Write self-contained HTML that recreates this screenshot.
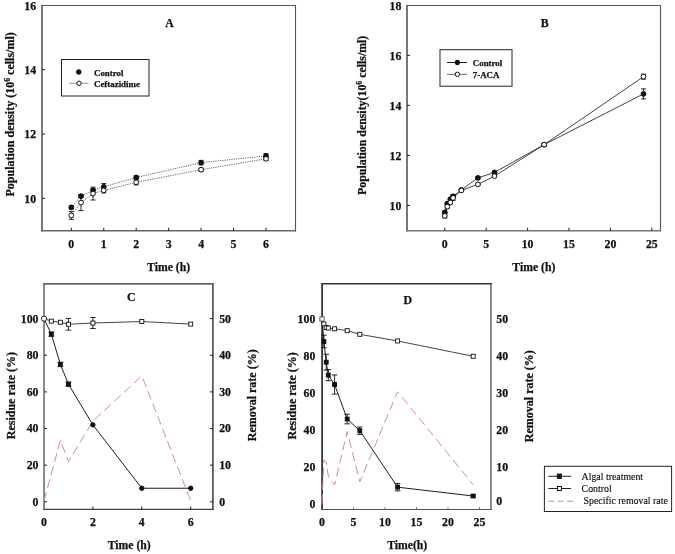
<!DOCTYPE html>
<html><head><meta charset="utf-8"><title>Figure</title>
<style>
html,body{margin:0;padding:0;background:#fff;}
body{width:675px;height:554px;overflow:hidden;font-family:"Liberation Serif",serif;}
svg{display:block;will-change:transform;font-family:"Liberation Serif",serif;fill:#111;}
svg text{stroke:#111;stroke-width:0.25px;stroke-linejoin:round;}
svg text.r{stroke-width:0.15px;}
</style></head><body>
<svg width="675" height="554" viewBox="0 0 675 554">
<rect x="0" y="0" width="675" height="554" fill="#fff" stroke="none"/>
<line x1="42.00" y1="4.95" x2="42.00" y2="231.55" stroke="#555" stroke-width="1.6" />
<line x1="295.50" y1="4.95" x2="295.50" y2="231.55" stroke="#555" stroke-width="1.1" />
<line x1="41.20" y1="5.50" x2="296.05" y2="5.50" stroke="#555" stroke-width="1.1" />
<line x1="41.20" y1="230.80" x2="296.05" y2="230.80" stroke="#666" stroke-width="1.5" />
<line x1="42.00" y1="198.40" x2="45.00" y2="198.40" stroke="#222" stroke-width="1" />
<text x="36.10" y="202.65" font-size="11.8" font-weight="bold" text-anchor="end" >10</text>
<line x1="42.00" y1="134.00" x2="45.00" y2="134.00" stroke="#222" stroke-width="1" />
<text x="36.10" y="138.25" font-size="11.8" font-weight="bold" text-anchor="end" >12</text>
<line x1="42.00" y1="69.60" x2="45.00" y2="69.60" stroke="#222" stroke-width="1" />
<text x="36.10" y="73.85" font-size="11.8" font-weight="bold" text-anchor="end" >14</text>
<text x="36.10" y="10.35" font-size="11.8" font-weight="bold" text-anchor="end" >16</text>
<line x1="71.30" y1="230.80" x2="71.30" y2="227.80" stroke="#222" stroke-width="1" />
<text x="71.30" y="248.00" font-size="11.8" font-weight="bold" text-anchor="middle" >0</text>
<line x1="103.75" y1="230.80" x2="103.75" y2="227.80" stroke="#222" stroke-width="1" />
<text x="103.75" y="248.00" font-size="11.8" font-weight="bold" text-anchor="middle" >1</text>
<line x1="136.20" y1="230.80" x2="136.20" y2="227.80" stroke="#222" stroke-width="1" />
<text x="136.20" y="248.00" font-size="11.8" font-weight="bold" text-anchor="middle" >2</text>
<line x1="168.65" y1="230.80" x2="168.65" y2="227.80" stroke="#222" stroke-width="1" />
<text x="168.65" y="248.00" font-size="11.8" font-weight="bold" text-anchor="middle" >3</text>
<line x1="201.10" y1="230.80" x2="201.10" y2="227.80" stroke="#222" stroke-width="1" />
<text x="201.10" y="248.00" font-size="11.8" font-weight="bold" text-anchor="middle" >4</text>
<line x1="233.55" y1="230.80" x2="233.55" y2="227.80" stroke="#222" stroke-width="1" />
<text x="233.55" y="248.00" font-size="11.8" font-weight="bold" text-anchor="middle" >5</text>
<line x1="266.00" y1="230.80" x2="266.00" y2="227.80" stroke="#222" stroke-width="1" />
<text x="266.00" y="248.00" font-size="11.8" font-weight="bold" text-anchor="middle" >6</text>
<text x="168.60" y="270.50" font-size="11.7" font-weight="bold" text-anchor="middle" >Time (h)</text>
<text x="14.10" y="114.40" font-size="12.0" font-weight="bold" text-anchor="middle" transform="rotate(-90 14.10 114.40)" >Population density (10<tspan dy="-4.5" font-size="7.8">6</tspan><tspan dy="4.5"> cells/ml)</tspan></text>
<text x="169.40" y="26.80" font-size="11.8" font-weight="bold" text-anchor="middle" >A</text>
<polyline points="71.30,207.42 81.03,196.15 93.04,190.35 103.75,186.81 136.20,177.47 201.10,162.66 266.00,155.90" fill="none" stroke="#444" stroke-width="0.8" stroke-dasharray="1.25,1.05"/>
<polyline points="71.30,215.47 81.03,202.59 93.04,193.57 103.75,190.35 136.20,182.30 201.10,169.74 266.00,158.79" fill="none" stroke="#444" stroke-width="0.8" stroke-dasharray="1.25,1.05"/>
<line x1="71.30" y1="205.81" x2="71.30" y2="209.03" stroke="#111" stroke-width="0.9" />
<line x1="68.80" y1="205.81" x2="73.80" y2="205.81" stroke="#111" stroke-width="0.9" />
<line x1="68.80" y1="209.03" x2="73.80" y2="209.03" stroke="#111" stroke-width="0.9" />
<circle cx="71.30" cy="207.42" r="2.4" fill="#111" stroke="#111" stroke-width="1"/>
<line x1="81.03" y1="194.86" x2="81.03" y2="197.43" stroke="#111" stroke-width="0.9" />
<line x1="78.53" y1="194.86" x2="83.53" y2="194.86" stroke="#111" stroke-width="0.9" />
<line x1="78.53" y1="197.43" x2="83.53" y2="197.43" stroke="#111" stroke-width="0.9" />
<circle cx="81.03" cy="196.15" r="2.4" fill="#111" stroke="#111" stroke-width="1"/>
<line x1="93.04" y1="188.42" x2="93.04" y2="192.28" stroke="#111" stroke-width="0.9" />
<line x1="90.54" y1="188.42" x2="95.54" y2="188.42" stroke="#111" stroke-width="0.9" />
<line x1="90.54" y1="192.28" x2="95.54" y2="192.28" stroke="#111" stroke-width="0.9" />
<circle cx="93.04" cy="190.35" r="2.4" fill="#111" stroke="#111" stroke-width="1"/>
<line x1="103.75" y1="183.59" x2="103.75" y2="190.03" stroke="#111" stroke-width="0.9" />
<line x1="101.25" y1="183.59" x2="106.25" y2="183.59" stroke="#111" stroke-width="0.9" />
<line x1="101.25" y1="190.03" x2="106.25" y2="190.03" stroke="#111" stroke-width="0.9" />
<circle cx="103.75" cy="186.81" r="2.4" fill="#111" stroke="#111" stroke-width="1"/>
<line x1="136.20" y1="175.86" x2="136.20" y2="179.08" stroke="#111" stroke-width="0.9" />
<line x1="133.70" y1="175.86" x2="138.70" y2="175.86" stroke="#111" stroke-width="0.9" />
<line x1="133.70" y1="179.08" x2="138.70" y2="179.08" stroke="#111" stroke-width="0.9" />
<circle cx="136.20" cy="177.47" r="2.4" fill="#111" stroke="#111" stroke-width="1"/>
<line x1="201.10" y1="160.40" x2="201.10" y2="164.91" stroke="#111" stroke-width="0.9" />
<line x1="198.60" y1="160.40" x2="203.60" y2="160.40" stroke="#111" stroke-width="0.9" />
<line x1="198.60" y1="164.91" x2="203.60" y2="164.91" stroke="#111" stroke-width="0.9" />
<circle cx="201.10" cy="162.66" r="2.4" fill="#111" stroke="#111" stroke-width="1"/>
<line x1="266.00" y1="153.64" x2="266.00" y2="158.15" stroke="#111" stroke-width="0.9" />
<line x1="263.50" y1="153.64" x2="268.50" y2="153.64" stroke="#111" stroke-width="0.9" />
<line x1="263.50" y1="158.15" x2="268.50" y2="158.15" stroke="#111" stroke-width="0.9" />
<circle cx="266.00" cy="155.90" r="2.4" fill="#111" stroke="#111" stroke-width="1"/>
<line x1="71.30" y1="211.60" x2="71.30" y2="219.33" stroke="#111" stroke-width="0.9" />
<line x1="68.80" y1="211.60" x2="73.80" y2="211.60" stroke="#111" stroke-width="0.9" />
<line x1="68.80" y1="219.33" x2="73.80" y2="219.33" stroke="#111" stroke-width="0.9" />
<circle cx="71.30" cy="215.47" r="2.4" fill="#fff" stroke="#111" stroke-width="1"/>
<line x1="81.03" y1="194.54" x2="81.03" y2="210.64" stroke="#111" stroke-width="0.9" />
<line x1="78.53" y1="194.54" x2="83.53" y2="194.54" stroke="#111" stroke-width="0.9" />
<line x1="78.53" y1="210.64" x2="83.53" y2="210.64" stroke="#111" stroke-width="0.9" />
<circle cx="81.03" cy="202.59" r="2.4" fill="#fff" stroke="#111" stroke-width="1"/>
<line x1="93.04" y1="187.13" x2="93.04" y2="200.01" stroke="#111" stroke-width="0.9" />
<line x1="90.54" y1="187.13" x2="95.54" y2="187.13" stroke="#111" stroke-width="0.9" />
<line x1="90.54" y1="200.01" x2="95.54" y2="200.01" stroke="#111" stroke-width="0.9" />
<circle cx="93.04" cy="193.57" r="2.4" fill="#fff" stroke="#111" stroke-width="1"/>
<line x1="103.75" y1="187.77" x2="103.75" y2="192.93" stroke="#111" stroke-width="0.9" />
<line x1="101.25" y1="187.77" x2="106.25" y2="187.77" stroke="#111" stroke-width="0.9" />
<line x1="101.25" y1="192.93" x2="106.25" y2="192.93" stroke="#111" stroke-width="0.9" />
<circle cx="103.75" cy="190.35" r="2.4" fill="#fff" stroke="#111" stroke-width="1"/>
<line x1="136.20" y1="179.72" x2="136.20" y2="184.88" stroke="#111" stroke-width="0.9" />
<line x1="133.70" y1="179.72" x2="138.70" y2="179.72" stroke="#111" stroke-width="0.9" />
<line x1="133.70" y1="184.88" x2="138.70" y2="184.88" stroke="#111" stroke-width="0.9" />
<circle cx="136.20" cy="182.30" r="2.4" fill="#fff" stroke="#111" stroke-width="1"/>
<line x1="201.10" y1="168.13" x2="201.10" y2="171.35" stroke="#111" stroke-width="0.9" />
<line x1="198.60" y1="168.13" x2="203.60" y2="168.13" stroke="#111" stroke-width="0.9" />
<line x1="198.60" y1="171.35" x2="203.60" y2="171.35" stroke="#111" stroke-width="0.9" />
<circle cx="201.10" cy="169.74" r="2.4" fill="#fff" stroke="#111" stroke-width="1"/>
<line x1="266.00" y1="157.18" x2="266.00" y2="160.40" stroke="#111" stroke-width="0.9" />
<line x1="263.50" y1="157.18" x2="268.50" y2="157.18" stroke="#111" stroke-width="0.9" />
<line x1="263.50" y1="160.40" x2="268.50" y2="160.40" stroke="#111" stroke-width="0.9" />
<circle cx="266.00" cy="158.79" r="2.4" fill="#fff" stroke="#111" stroke-width="1"/>
<rect x="61.50" y="59.50" width="87.50" height="36.50" fill="#fff" stroke="#222" stroke-width="1"/>
<circle cx="78.80" cy="72.00" r="2.3" fill="#111" stroke="#111" stroke-width="1"/>
<line x1="69.00" y1="83.30" x2="88.70" y2="83.30" stroke="#888" stroke-width="0.9" />
<circle cx="79.00" cy="83.30" r="2.2" fill="#fff" stroke="#111" stroke-width="1"/>
<text x="94.00" y="75.70" font-size="8.9" font-weight="bold" text-anchor="start" >Control</text>
<text x="94.00" y="87.00" font-size="8.9" font-weight="bold" text-anchor="start" >Ceftazidime</text>
<line x1="407.00" y1="4.95" x2="407.00" y2="231.45" stroke="#555" stroke-width="1.6" />
<line x1="660.50" y1="4.95" x2="660.50" y2="231.45" stroke="#555" stroke-width="1.1" />
<line x1="406.20" y1="5.50" x2="661.05" y2="5.50" stroke="#555" stroke-width="1.1" />
<line x1="406.20" y1="230.70" x2="661.05" y2="230.70" stroke="#777" stroke-width="1.5" />
<line x1="407.00" y1="205.40" x2="410.00" y2="205.40" stroke="#222" stroke-width="1" />
<text x="401.40" y="209.65" font-size="11.8" font-weight="bold" text-anchor="end" >10</text>
<line x1="407.00" y1="155.40" x2="410.00" y2="155.40" stroke="#222" stroke-width="1" />
<text x="401.40" y="159.65" font-size="11.8" font-weight="bold" text-anchor="end" >12</text>
<line x1="407.00" y1="105.40" x2="410.00" y2="105.40" stroke="#222" stroke-width="1" />
<text x="401.40" y="109.65" font-size="11.8" font-weight="bold" text-anchor="end" >14</text>
<line x1="407.00" y1="55.40" x2="410.00" y2="55.40" stroke="#222" stroke-width="1" />
<text x="401.40" y="59.65" font-size="11.8" font-weight="bold" text-anchor="end" >16</text>
<text x="401.40" y="10.15" font-size="11.8" font-weight="bold" text-anchor="end" >18</text>
<line x1="444.80" y1="230.70" x2="444.80" y2="227.70" stroke="#222" stroke-width="1" />
<text x="444.80" y="248.00" font-size="11.8" font-weight="bold" text-anchor="middle" >0</text>
<line x1="486.20" y1="230.70" x2="486.20" y2="227.70" stroke="#222" stroke-width="1" />
<text x="486.20" y="248.00" font-size="11.8" font-weight="bold" text-anchor="middle" >5</text>
<line x1="527.60" y1="230.70" x2="527.60" y2="227.70" stroke="#222" stroke-width="1" />
<text x="527.60" y="248.00" font-size="11.8" font-weight="bold" text-anchor="middle" >10</text>
<line x1="569.00" y1="230.70" x2="569.00" y2="227.70" stroke="#222" stroke-width="1" />
<text x="569.00" y="248.00" font-size="11.8" font-weight="bold" text-anchor="middle" >15</text>
<line x1="610.40" y1="230.70" x2="610.40" y2="227.70" stroke="#222" stroke-width="1" />
<text x="610.40" y="248.00" font-size="11.8" font-weight="bold" text-anchor="middle" >20</text>
<line x1="651.80" y1="230.70" x2="651.80" y2="227.70" stroke="#222" stroke-width="1" />
<text x="651.80" y="248.00" font-size="11.8" font-weight="bold" text-anchor="middle" >25</text>
<text x="533.80" y="270.50" font-size="11.7" font-weight="bold" text-anchor="middle" >Time (h)</text>
<text x="366.30" y="115.30" font-size="11.85" font-weight="bold" text-anchor="middle" transform="rotate(-90 366.30 115.30)" >Population density(10<tspan dy="-4.5" font-size="7.8">6</tspan><tspan dy="4.5"> cells/ml)</tspan></text>
<text x="544.80" y="26.50" font-size="11.8" font-weight="bold" text-anchor="middle" >B</text>
<polyline points="444.80,212.40 447.28,203.65 450.35,199.15 453.08,196.40 461.36,189.90 477.92,177.90 494.48,172.40 544.16,144.65 643.52,93.90" fill="none" stroke="#222" stroke-width="0.85"/>
<polyline points="444.80,215.90 447.28,206.65 450.35,202.40 453.08,197.90 461.36,190.40 477.92,184.40 494.48,176.15 544.16,144.65 643.52,76.65" fill="none" stroke="#222" stroke-width="0.85"/>
<line x1="444.80" y1="211.15" x2="444.80" y2="213.65" stroke="#111" stroke-width="0.9" />
<line x1="442.30" y1="211.15" x2="447.30" y2="211.15" stroke="#111" stroke-width="0.9" />
<line x1="442.30" y1="213.65" x2="447.30" y2="213.65" stroke="#111" stroke-width="0.9" />
<circle cx="444.80" cy="212.40" r="2.4" fill="#111" stroke="#111" stroke-width="1"/>
<line x1="447.28" y1="202.65" x2="447.28" y2="204.65" stroke="#111" stroke-width="0.9" />
<line x1="444.78" y1="202.65" x2="449.78" y2="202.65" stroke="#111" stroke-width="0.9" />
<line x1="444.78" y1="204.65" x2="449.78" y2="204.65" stroke="#111" stroke-width="0.9" />
<circle cx="447.28" cy="203.65" r="2.4" fill="#111" stroke="#111" stroke-width="1"/>
<line x1="450.35" y1="197.90" x2="450.35" y2="200.40" stroke="#111" stroke-width="0.9" />
<line x1="447.85" y1="197.90" x2="452.85" y2="197.90" stroke="#111" stroke-width="0.9" />
<line x1="447.85" y1="200.40" x2="452.85" y2="200.40" stroke="#111" stroke-width="0.9" />
<circle cx="450.35" cy="199.15" r="2.4" fill="#111" stroke="#111" stroke-width="1"/>
<line x1="453.08" y1="194.40" x2="453.08" y2="198.40" stroke="#111" stroke-width="0.9" />
<line x1="450.58" y1="194.40" x2="455.58" y2="194.40" stroke="#111" stroke-width="0.9" />
<line x1="450.58" y1="198.40" x2="455.58" y2="198.40" stroke="#111" stroke-width="0.9" />
<circle cx="453.08" cy="196.40" r="2.4" fill="#111" stroke="#111" stroke-width="1"/>
<line x1="461.36" y1="188.90" x2="461.36" y2="190.90" stroke="#111" stroke-width="0.9" />
<line x1="458.86" y1="188.90" x2="463.86" y2="188.90" stroke="#111" stroke-width="0.9" />
<line x1="458.86" y1="190.90" x2="463.86" y2="190.90" stroke="#111" stroke-width="0.9" />
<circle cx="461.36" cy="189.90" r="2.4" fill="#111" stroke="#111" stroke-width="1"/>
<line x1="477.92" y1="176.90" x2="477.92" y2="178.90" stroke="#111" stroke-width="0.9" />
<line x1="475.42" y1="176.90" x2="480.42" y2="176.90" stroke="#111" stroke-width="0.9" />
<line x1="475.42" y1="178.90" x2="480.42" y2="178.90" stroke="#111" stroke-width="0.9" />
<circle cx="477.92" cy="177.90" r="2.4" fill="#111" stroke="#111" stroke-width="1"/>
<line x1="494.48" y1="171.15" x2="494.48" y2="173.65" stroke="#111" stroke-width="0.9" />
<line x1="491.98" y1="171.15" x2="496.98" y2="171.15" stroke="#111" stroke-width="0.9" />
<line x1="491.98" y1="173.65" x2="496.98" y2="173.65" stroke="#111" stroke-width="0.9" />
<circle cx="494.48" cy="172.40" r="2.4" fill="#111" stroke="#111" stroke-width="1"/>
<line x1="544.16" y1="143.65" x2="544.16" y2="145.65" stroke="#111" stroke-width="0.9" />
<line x1="541.66" y1="143.65" x2="546.66" y2="143.65" stroke="#111" stroke-width="0.9" />
<line x1="541.66" y1="145.65" x2="546.66" y2="145.65" stroke="#111" stroke-width="0.9" />
<circle cx="544.16" cy="144.65" r="2.4" fill="#111" stroke="#111" stroke-width="1"/>
<line x1="643.52" y1="88.90" x2="643.52" y2="98.90" stroke="#111" stroke-width="0.9" />
<line x1="641.02" y1="88.90" x2="646.02" y2="88.90" stroke="#111" stroke-width="0.9" />
<line x1="641.02" y1="98.90" x2="646.02" y2="98.90" stroke="#111" stroke-width="0.9" />
<circle cx="643.52" cy="93.90" r="2.4" fill="#111" stroke="#111" stroke-width="1"/>
<line x1="444.80" y1="213.90" x2="444.80" y2="217.90" stroke="#111" stroke-width="0.9" />
<line x1="442.30" y1="213.90" x2="447.30" y2="213.90" stroke="#111" stroke-width="0.9" />
<line x1="442.30" y1="217.90" x2="447.30" y2="217.90" stroke="#111" stroke-width="0.9" />
<circle cx="444.80" cy="215.90" r="2.4" fill="#fff" stroke="#111" stroke-width="1"/>
<line x1="447.28" y1="205.15" x2="447.28" y2="208.15" stroke="#111" stroke-width="0.9" />
<line x1="444.78" y1="205.15" x2="449.78" y2="205.15" stroke="#111" stroke-width="0.9" />
<line x1="444.78" y1="208.15" x2="449.78" y2="208.15" stroke="#111" stroke-width="0.9" />
<circle cx="447.28" cy="206.65" r="2.4" fill="#fff" stroke="#111" stroke-width="1"/>
<line x1="450.35" y1="200.90" x2="450.35" y2="203.90" stroke="#111" stroke-width="0.9" />
<line x1="447.85" y1="200.90" x2="452.85" y2="200.90" stroke="#111" stroke-width="0.9" />
<line x1="447.85" y1="203.90" x2="452.85" y2="203.90" stroke="#111" stroke-width="0.9" />
<circle cx="450.35" cy="202.40" r="2.4" fill="#fff" stroke="#111" stroke-width="1"/>
<line x1="453.08" y1="195.40" x2="453.08" y2="200.40" stroke="#111" stroke-width="0.9" />
<line x1="450.58" y1="195.40" x2="455.58" y2="195.40" stroke="#111" stroke-width="0.9" />
<line x1="450.58" y1="200.40" x2="455.58" y2="200.40" stroke="#111" stroke-width="0.9" />
<circle cx="453.08" cy="197.90" r="2.4" fill="#fff" stroke="#111" stroke-width="1"/>
<line x1="461.36" y1="189.15" x2="461.36" y2="191.65" stroke="#111" stroke-width="0.9" />
<line x1="458.86" y1="189.15" x2="463.86" y2="189.15" stroke="#111" stroke-width="0.9" />
<line x1="458.86" y1="191.65" x2="463.86" y2="191.65" stroke="#111" stroke-width="0.9" />
<circle cx="461.36" cy="190.40" r="2.4" fill="#fff" stroke="#111" stroke-width="1"/>
<line x1="477.92" y1="183.40" x2="477.92" y2="185.40" stroke="#111" stroke-width="0.9" />
<line x1="475.42" y1="183.40" x2="480.42" y2="183.40" stroke="#111" stroke-width="0.9" />
<line x1="475.42" y1="185.40" x2="480.42" y2="185.40" stroke="#111" stroke-width="0.9" />
<circle cx="477.92" cy="184.40" r="2.4" fill="#fff" stroke="#111" stroke-width="1"/>
<line x1="494.48" y1="174.90" x2="494.48" y2="177.40" stroke="#111" stroke-width="0.9" />
<line x1="491.98" y1="174.90" x2="496.98" y2="174.90" stroke="#111" stroke-width="0.9" />
<line x1="491.98" y1="177.40" x2="496.98" y2="177.40" stroke="#111" stroke-width="0.9" />
<circle cx="494.48" cy="176.15" r="2.4" fill="#fff" stroke="#111" stroke-width="1"/>
<line x1="544.16" y1="143.40" x2="544.16" y2="145.90" stroke="#111" stroke-width="0.9" />
<line x1="541.66" y1="143.40" x2="546.66" y2="143.40" stroke="#111" stroke-width="0.9" />
<line x1="541.66" y1="145.90" x2="546.66" y2="145.90" stroke="#111" stroke-width="0.9" />
<circle cx="544.16" cy="144.65" r="2.4" fill="#fff" stroke="#111" stroke-width="1"/>
<line x1="643.52" y1="74.15" x2="643.52" y2="79.15" stroke="#111" stroke-width="0.9" />
<line x1="641.02" y1="74.15" x2="646.02" y2="74.15" stroke="#111" stroke-width="0.9" />
<line x1="641.02" y1="79.15" x2="646.02" y2="79.15" stroke="#111" stroke-width="0.9" />
<circle cx="643.52" cy="76.65" r="2.4" fill="#fff" stroke="#111" stroke-width="1"/>
<rect x="440.00" y="49.70" width="72.00" height="36.50" fill="#fff" stroke="#222" stroke-width="1"/>
<line x1="447.00" y1="62.50" x2="467.00" y2="62.50" stroke="#222" stroke-width="1" />
<circle cx="457.40" cy="62.50" r="2.3" fill="#111" stroke="#111" stroke-width="1"/>
<line x1="447.00" y1="74.30" x2="467.00" y2="74.30" stroke="#666" stroke-width="1" />
<circle cx="457.40" cy="74.30" r="2.2" fill="#fff" stroke="#111" stroke-width="1"/>
<text x="472.80" y="66.00" font-size="8.9" font-weight="bold" text-anchor="start" >Control</text>
<text x="472.80" y="77.60" font-size="8.9" font-weight="bold" text-anchor="start" >7-ACA</text>
<line x1="44.05" y1="283.10" x2="44.05" y2="510.00" stroke="#777" stroke-width="1.7" />
<line x1="212.90" y1="283.10" x2="212.90" y2="510.00" stroke="#3a3a3a" stroke-width="1.5" />
<line x1="43.20" y1="283.90" x2="213.65" y2="283.90" stroke="#666" stroke-width="1.6" />
<line x1="43.20" y1="509.40" x2="213.65" y2="509.40" stroke="#444" stroke-width="1.2" />
<line x1="44.05" y1="501.80" x2="47.05" y2="501.80" stroke="#222" stroke-width="1" />
<line x1="212.90" y1="501.80" x2="209.90" y2="501.80" stroke="#222" stroke-width="1" />
<text x="38.50" y="505.75" font-size="11.8" font-weight="bold" text-anchor="end" >0</text>
<text x="219.20" y="505.75" font-size="11.8" font-weight="bold" text-anchor="start" >0</text>
<line x1="44.05" y1="465.16" x2="47.05" y2="465.16" stroke="#222" stroke-width="1" />
<line x1="212.90" y1="465.16" x2="209.90" y2="465.16" stroke="#222" stroke-width="1" />
<text x="38.50" y="469.11" font-size="11.8" font-weight="bold" text-anchor="end" >20</text>
<text x="219.20" y="469.11" font-size="11.8" font-weight="bold" text-anchor="start" >10</text>
<line x1="44.05" y1="428.52" x2="47.05" y2="428.52" stroke="#222" stroke-width="1" />
<line x1="212.90" y1="428.52" x2="209.90" y2="428.52" stroke="#222" stroke-width="1" />
<text x="38.50" y="432.47" font-size="11.8" font-weight="bold" text-anchor="end" >40</text>
<text x="219.20" y="432.47" font-size="11.8" font-weight="bold" text-anchor="start" >20</text>
<line x1="44.05" y1="391.88" x2="47.05" y2="391.88" stroke="#222" stroke-width="1" />
<line x1="212.90" y1="391.88" x2="209.90" y2="391.88" stroke="#222" stroke-width="1" />
<text x="38.50" y="395.83" font-size="11.8" font-weight="bold" text-anchor="end" >60</text>
<text x="219.20" y="395.83" font-size="11.8" font-weight="bold" text-anchor="start" >30</text>
<line x1="44.05" y1="355.24" x2="47.05" y2="355.24" stroke="#222" stroke-width="1" />
<line x1="212.90" y1="355.24" x2="209.90" y2="355.24" stroke="#222" stroke-width="1" />
<text x="38.50" y="359.19" font-size="11.8" font-weight="bold" text-anchor="end" >80</text>
<text x="219.20" y="359.19" font-size="11.8" font-weight="bold" text-anchor="start" >40</text>
<line x1="44.05" y1="318.60" x2="47.05" y2="318.60" stroke="#222" stroke-width="1" />
<line x1="212.90" y1="318.60" x2="209.90" y2="318.60" stroke="#222" stroke-width="1" />
<text x="38.50" y="322.55" font-size="11.8" font-weight="bold" text-anchor="end" >100</text>
<text x="219.20" y="322.55" font-size="11.8" font-weight="bold" text-anchor="start" >50</text>
<text x="44.00" y="526.30" font-size="11.8" font-weight="bold" text-anchor="middle" >0</text>
<line x1="92.90" y1="509.40" x2="92.90" y2="506.40" stroke="#222" stroke-width="1" />
<text x="92.90" y="526.30" font-size="11.8" font-weight="bold" text-anchor="middle" >2</text>
<line x1="141.80" y1="509.40" x2="141.80" y2="506.40" stroke="#222" stroke-width="1" />
<text x="141.80" y="526.30" font-size="11.8" font-weight="bold" text-anchor="middle" >4</text>
<line x1="190.70" y1="509.40" x2="190.70" y2="506.40" stroke="#222" stroke-width="1" />
<text x="190.70" y="526.30" font-size="11.8" font-weight="bold" text-anchor="middle" >6</text>
<text x="129.20" y="548.60" font-size="11.7" font-weight="bold" text-anchor="middle" >Time (h)</text>
<text x="14.80" y="395.60" font-size="12.0" font-weight="bold" text-anchor="middle" transform="rotate(-90 14.80 395.60)" >Residue rate (%)</text>
<text x="256.30" y="395.30" font-size="12.0" font-weight="bold" text-anchor="middle" transform="rotate(-90 256.30 395.30)" >Removal rate (%)</text>
<text x="131.30" y="301.00" font-size="11.8" font-weight="bold" text-anchor="middle" >C</text>
<polyline points="44.00,501.07 60.38,440.24 68.45,461.50 92.90,421.19 141.80,375.76 190.70,500.70" fill="none" stroke="#cf8f95" stroke-width="1" stroke-dasharray="9,4.5"/>
<polyline points="44.00,318.60 51.34,321.16 60.38,322.26 68.45,324.28 92.90,323.00 141.80,321.53 190.70,324.10" fill="none" stroke="#222" stroke-width="0.85"/>
<polyline points="44.00,318.60 51.34,334.17 60.38,364.40 68.45,384.19 92.90,424.86 141.80,488.24 190.70,488.24" fill="none" stroke="#111" stroke-width="0.95"/>
<rect x="49.44" y="332.27" width="3.8" height="3.8" fill="#111" stroke="#111" stroke-width="1"/>
<line x1="48.34" y1="331.97" x2="54.34" y2="331.97" stroke="#111" stroke-width="0.8" />
<line x1="48.34" y1="336.37" x2="54.34" y2="336.37" stroke="#111" stroke-width="0.8" />
<rect x="58.48" y="362.50" width="3.8" height="3.8" fill="#111" stroke="#111" stroke-width="1"/>
<line x1="57.38" y1="362.20" x2="63.38" y2="362.20" stroke="#111" stroke-width="0.8" />
<line x1="57.38" y1="366.60" x2="63.38" y2="366.60" stroke="#111" stroke-width="0.8" />
<rect x="66.55" y="382.29" width="3.8" height="3.8" fill="#111" stroke="#111" stroke-width="1"/>
<line x1="65.45" y1="381.99" x2="71.45" y2="381.99" stroke="#111" stroke-width="0.8" />
<line x1="65.45" y1="386.39" x2="71.45" y2="386.39" stroke="#111" stroke-width="0.8" />
<circle cx="92.90" cy="424.86" r="2.2" fill="#111" stroke="#111" stroke-width="1"/>
<circle cx="141.80" cy="488.24" r="2.2" fill="#111" stroke="#111" stroke-width="1"/>
<circle cx="190.70" cy="488.24" r="2.2" fill="#111" stroke="#111" stroke-width="1"/>
<rect x="41.60" y="316.20" width="4.8" height="4.8" rx="1.6" fill="#fff" stroke="#111" stroke-width="0.9"/>
<rect x="49.34" y="319.16" width="4.0" height="4.0" fill="#fff" stroke="#111" stroke-width="0.9"/>
<rect x="58.38" y="320.26" width="4.0" height="4.0" fill="#fff" stroke="#111" stroke-width="0.9"/>
<line x1="68.45" y1="318.42" x2="68.45" y2="330.14" stroke="#111" stroke-width="0.9" />
<line x1="65.65" y1="318.42" x2="71.25" y2="318.42" stroke="#111" stroke-width="0.9" />
<line x1="65.65" y1="330.14" x2="71.25" y2="330.14" stroke="#111" stroke-width="0.9" />
<rect x="66.45" y="322.28" width="4.0" height="4.0" fill="#fff" stroke="#111" stroke-width="0.9"/>
<line x1="92.90" y1="317.50" x2="92.90" y2="328.49" stroke="#111" stroke-width="0.9" />
<line x1="90.10" y1="317.50" x2="95.70" y2="317.50" stroke="#111" stroke-width="0.9" />
<line x1="90.10" y1="328.49" x2="95.70" y2="328.49" stroke="#111" stroke-width="0.9" />
<rect x="90.90" y="321.00" width="4.0" height="4.0" fill="#fff" stroke="#111" stroke-width="0.9"/>
<rect x="139.80" y="319.53" width="4.0" height="4.0" fill="#fff" stroke="#111" stroke-width="0.9"/>
<rect x="188.70" y="322.10" width="4.0" height="4.0" fill="#fff" stroke="#111" stroke-width="0.9"/>
<line x1="322.10" y1="283.00" x2="322.10" y2="510.00" stroke="#383838" stroke-width="1.8" />
<line x1="490.95" y1="283.00" x2="490.95" y2="510.00" stroke="#666" stroke-width="1.5" />
<line x1="321.20" y1="283.70" x2="491.70" y2="283.70" stroke="#333" stroke-width="1.4" />
<line x1="321.20" y1="509.45" x2="491.70" y2="509.45" stroke="#555" stroke-width="1.1" />
<text x="315.30" y="507.55" font-size="11.8" font-weight="bold" text-anchor="end" >0</text>
<text x="496.30" y="505.25" font-size="11.8" font-weight="bold" text-anchor="start" >0</text>
<text x="315.30" y="470.63" font-size="11.8" font-weight="bold" text-anchor="end" >20</text>
<text x="496.30" y="470.63" font-size="11.8" font-weight="bold" text-anchor="start" >10</text>
<text x="315.30" y="433.71" font-size="11.8" font-weight="bold" text-anchor="end" >40</text>
<text x="496.30" y="433.71" font-size="11.8" font-weight="bold" text-anchor="start" >20</text>
<text x="315.30" y="396.79" font-size="11.8" font-weight="bold" text-anchor="end" >60</text>
<text x="496.30" y="396.79" font-size="11.8" font-weight="bold" text-anchor="start" >30</text>
<text x="315.30" y="359.87" font-size="11.8" font-weight="bold" text-anchor="end" >80</text>
<text x="496.30" y="359.87" font-size="11.8" font-weight="bold" text-anchor="start" >40</text>
<text x="315.30" y="322.95" font-size="11.8" font-weight="bold" text-anchor="end" >100</text>
<text x="496.30" y="322.95" font-size="11.8" font-weight="bold" text-anchor="start" >50</text>
<text x="322.00" y="526.10" font-size="11.8" font-weight="bold" text-anchor="middle" >0</text>
<line x1="353.50" y1="509.45" x2="353.50" y2="507.45" stroke="#555" stroke-width="0.9" />
<text x="353.50" y="526.10" font-size="11.8" font-weight="bold" text-anchor="middle" >5</text>
<line x1="385.00" y1="509.45" x2="385.00" y2="507.45" stroke="#555" stroke-width="0.9" />
<text x="385.00" y="526.10" font-size="11.8" font-weight="bold" text-anchor="middle" >10</text>
<line x1="416.50" y1="509.45" x2="416.50" y2="507.45" stroke="#555" stroke-width="0.9" />
<text x="416.50" y="526.10" font-size="11.8" font-weight="bold" text-anchor="middle" >15</text>
<line x1="448.00" y1="509.45" x2="448.00" y2="507.45" stroke="#555" stroke-width="0.9" />
<text x="448.00" y="526.10" font-size="11.8" font-weight="bold" text-anchor="middle" >20</text>
<line x1="479.50" y1="509.45" x2="479.50" y2="507.45" stroke="#555" stroke-width="0.9" />
<text x="479.50" y="526.10" font-size="11.8" font-weight="bold" text-anchor="middle" >25</text>
<text x="407.20" y="548.70" font-size="11.7" font-weight="bold" text-anchor="middle" >Time(h)</text>
<text x="296.00" y="395.80" font-size="12.0" font-weight="bold" text-anchor="middle" transform="rotate(-90 296.00 395.80)" >Residue rate (%)</text>
<text x="533.40" y="396.20" font-size="12.0" font-weight="bold" text-anchor="middle" transform="rotate(-90 533.40 396.20)" >Removal rate (%)</text>
<text x="407.80" y="303.80" font-size="11.8" font-weight="bold" text-anchor="middle" >D</text>
<polyline points="322.00,503.60 323.89,460.03 326.22,461.51 328.30,475.91 334.60,485.14 347.20,431.61 359.80,481.82 397.60,391.73 473.20,484.77" fill="none" stroke="#cf8f95" stroke-width="1" stroke-dasharray="9,4.5"/>
<polyline points="322.00,319.00 323.89,323.98 326.22,327.49 328.30,328.05 334.60,328.78 347.20,330.63 359.80,334.32 397.60,340.97 473.20,356.29" fill="none" stroke="#222" stroke-width="0.85"/>
<polyline points="322.00,319.00 323.89,341.52 326.22,362.20 328.30,375.12 334.60,384.53 347.20,419.05 359.80,430.68 397.60,487.17 473.20,496.03" fill="none" stroke="#111" stroke-width="0.95"/>
<line x1="323.89" y1="335.24" x2="323.89" y2="347.80" stroke="#111" stroke-width="0.9" />
<line x1="321.09" y1="335.24" x2="326.69" y2="335.24" stroke="#111" stroke-width="0.9" />
<line x1="321.09" y1="347.80" x2="326.69" y2="347.80" stroke="#111" stroke-width="0.9" />
<rect x="321.99" y="339.62" width="3.8" height="3.8" fill="#111" stroke="#111" stroke-width="1"/>
<line x1="326.22" y1="354.26" x2="326.22" y2="370.13" stroke="#111" stroke-width="0.9" />
<line x1="323.42" y1="354.26" x2="329.02" y2="354.26" stroke="#111" stroke-width="0.9" />
<line x1="323.42" y1="370.13" x2="329.02" y2="370.13" stroke="#111" stroke-width="0.9" />
<rect x="324.32" y="360.30" width="3.8" height="3.8" fill="#111" stroke="#111" stroke-width="1"/>
<line x1="328.30" y1="369.58" x2="328.30" y2="380.66" stroke="#111" stroke-width="0.9" />
<line x1="325.50" y1="369.58" x2="331.10" y2="369.58" stroke="#111" stroke-width="0.9" />
<line x1="325.50" y1="380.66" x2="331.10" y2="380.66" stroke="#111" stroke-width="0.9" />
<rect x="326.40" y="373.22" width="3.8" height="3.8" fill="#111" stroke="#111" stroke-width="1"/>
<line x1="334.60" y1="374.93" x2="334.60" y2="394.13" stroke="#111" stroke-width="0.9" />
<line x1="331.80" y1="374.93" x2="337.40" y2="374.93" stroke="#111" stroke-width="0.9" />
<line x1="331.80" y1="394.13" x2="337.40" y2="394.13" stroke="#111" stroke-width="0.9" />
<rect x="332.70" y="382.63" width="3.8" height="3.8" fill="#111" stroke="#111" stroke-width="1"/>
<line x1="347.20" y1="414.25" x2="347.20" y2="423.85" stroke="#111" stroke-width="0.9" />
<line x1="344.40" y1="414.25" x2="350.00" y2="414.25" stroke="#111" stroke-width="0.9" />
<line x1="344.40" y1="423.85" x2="350.00" y2="423.85" stroke="#111" stroke-width="0.9" />
<rect x="345.30" y="417.15" width="3.8" height="3.8" fill="#111" stroke="#111" stroke-width="1"/>
<line x1="359.80" y1="426.99" x2="359.80" y2="434.38" stroke="#111" stroke-width="0.9" />
<line x1="357.00" y1="426.99" x2="362.60" y2="426.99" stroke="#111" stroke-width="0.9" />
<line x1="357.00" y1="434.38" x2="362.60" y2="434.38" stroke="#111" stroke-width="0.9" />
<rect x="357.90" y="428.78" width="3.8" height="3.8" fill="#111" stroke="#111" stroke-width="1"/>
<line x1="397.60" y1="483.48" x2="397.60" y2="490.86" stroke="#111" stroke-width="0.9" />
<line x1="394.80" y1="483.48" x2="400.40" y2="483.48" stroke="#111" stroke-width="0.9" />
<line x1="394.80" y1="490.86" x2="400.40" y2="490.86" stroke="#111" stroke-width="0.9" />
<rect x="395.70" y="485.27" width="3.8" height="3.8" fill="#111" stroke="#111" stroke-width="1"/>
<line x1="473.20" y1="494.92" x2="473.20" y2="497.14" stroke="#111" stroke-width="0.9" />
<line x1="470.40" y1="494.92" x2="476.00" y2="494.92" stroke="#111" stroke-width="0.9" />
<line x1="470.40" y1="497.14" x2="476.00" y2="497.14" stroke="#111" stroke-width="0.9" />
<rect x="471.30" y="494.13" width="3.8" height="3.8" fill="#111" stroke="#111" stroke-width="1"/>
<rect x="321.89" y="321.98" width="4.0" height="4.0" fill="#fff" stroke="#111" stroke-width="0.9"/>
<rect x="324.22" y="325.49" width="4.0" height="4.0" fill="#fff" stroke="#111" stroke-width="0.9"/>
<rect x="326.30" y="326.05" width="4.0" height="4.0" fill="#fff" stroke="#111" stroke-width="0.9"/>
<rect x="332.60" y="326.78" width="4.0" height="4.0" fill="#fff" stroke="#111" stroke-width="0.9"/>
<rect x="345.20" y="328.63" width="4.0" height="4.0" fill="#fff" stroke="#111" stroke-width="0.9"/>
<rect x="357.80" y="332.32" width="4.0" height="4.0" fill="#fff" stroke="#111" stroke-width="0.9"/>
<rect x="395.60" y="338.97" width="4.0" height="4.0" fill="#fff" stroke="#111" stroke-width="0.9"/>
<rect x="471.20" y="354.29" width="4.0" height="4.0" fill="#fff" stroke="#111" stroke-width="0.9"/>
<rect x="319.90" y="316.90" width="4.2" height="4.2" fill="#fff" stroke="#444" stroke-width="0.9"/>
<rect x="544.40" y="466.30" width="127.20" height="45.20" fill="#fff" stroke="#222" stroke-width="1"/>
<line x1="548.40" y1="476.30" x2="571.00" y2="476.30" stroke="#222" stroke-width="1" />
<rect x="557.30" y="474.10" width="4.2" height="4.2" fill="#111" stroke="#111" stroke-width="1"/>
<line x1="548.40" y1="488.50" x2="571.00" y2="488.50" stroke="#222" stroke-width="1" />
<rect x="557.40" y="486.50" width="4.0" height="4.0" fill="#fff" stroke="#111" stroke-width="1"/>
<line x1="548.40" y1="501.30" x2="573.00" y2="501.30" stroke="#cf8f95" stroke-width="1.1" stroke-dasharray="6,3.3"/>
<text x="581.60" y="479.60" font-size="9.85" font-weight="normal" text-anchor="start"  class="r">Algal treatment</text>
<text x="581.60" y="492.00" font-size="9.85" font-weight="normal" text-anchor="start"  class="r">Control</text>
<text x="583.60" y="504.40" font-size="9.85" font-weight="normal" text-anchor="start"  class="r">Specific removal rate</text>
</svg>
</body></html>
